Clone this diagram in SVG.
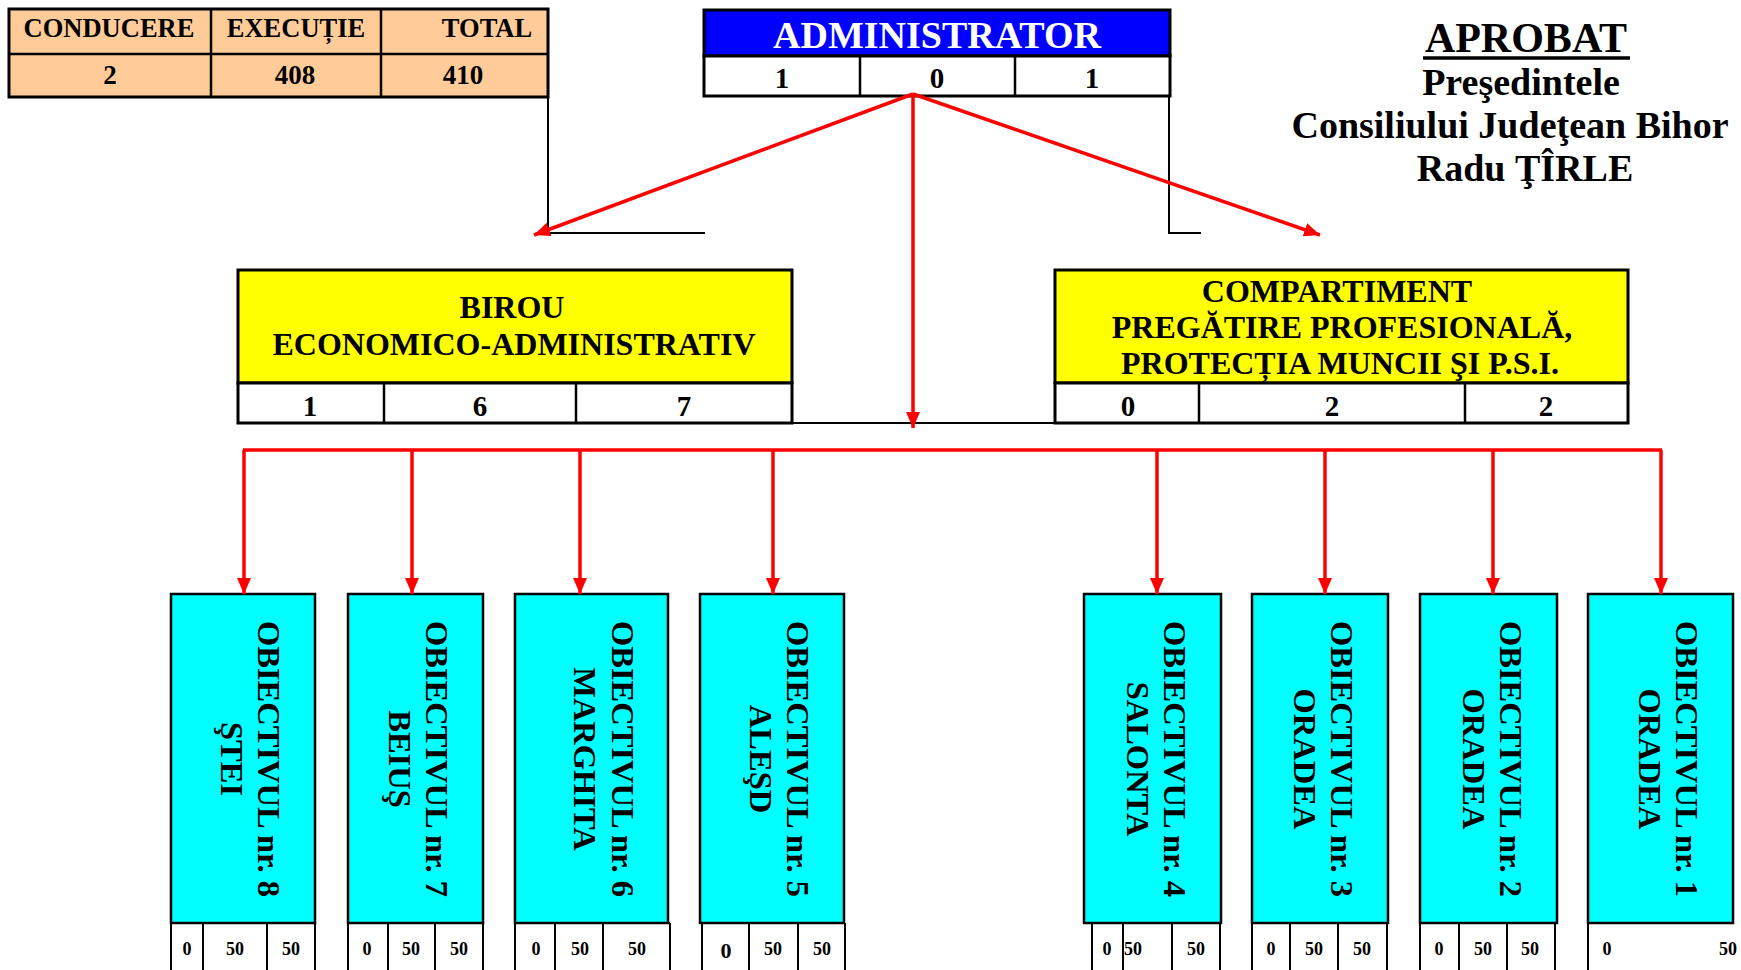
<svg xmlns="http://www.w3.org/2000/svg" width="1741" height="970" viewBox="0 0 1741 970">
<defs>
<marker id="ah" viewBox="0 0 16 14" refX="16" refY="7" markerWidth="16" markerHeight="14" orient="auto" markerUnits="userSpaceOnUse">
<path d="M0,0 L16,7 L0,14 Z" fill="#FF0000"/>
</marker>
<style>
text{font-family:"Liberation Serif","Times New Roman",serif;font-weight:bold;fill:#000;text-anchor:middle}
.box{stroke:#000;stroke-width:3}
.cell{fill:#fff;stroke:#000;stroke-width:3}
.ln{stroke:#000;stroke-width:2.5;fill:none}
.thin{stroke:#000;stroke-width:2;fill:none}
.red{stroke:#FF0000;stroke-width:3.5;fill:none}
.cy{fill:#00FFFF;stroke:#000;stroke-width:2.5}
.v{font-size:32.5px}
.n{font-size:18px}
</style>
</defs>
<rect width="1741" height="970" fill="#fff"/>

<g id="totals">
<rect x="9" y="9" width="539" height="88" fill="#FFCC99" class="box"/>
<line x1="9" y1="54" x2="548" y2="54" class="ln"/>
<line x1="211" y1="9" x2="211" y2="97" class="ln"/>
<line x1="381" y1="9" x2="381" y2="97" class="ln"/>
<text x="109" y="37" font-size="26.5">CONDUCERE</text>
<text x="296" y="37" font-size="26.5">EXECUȚIE</text>
<text x="487" y="37" font-size="26.5">TOTAL</text>
<text x="110" y="84" font-size="27">2</text>
<text x="295" y="84" font-size="27">408</text>
<text x="463" y="84" font-size="27">410</text>
</g>

<g id="administrator">
<rect x="704" y="10" width="466" height="46" fill="#0000FF" class="box"/>
<rect x="704" y="56" width="466" height="40" class="cell"/>
<line x1="860" y1="56" x2="860" y2="96" class="ln"/>
<line x1="1015" y1="56" x2="1015" y2="96" class="ln"/>
<text x="937" y="48" font-size="38" style="fill:#fff">ADMINISTRATOR</text>
<text x="782" y="88" font-size="29">1</text>
<text x="937" y="88" font-size="29">0</text>
<text x="1092" y="88" font-size="29">1</text>
</g>

<g id="aprobat">
<text x="1526" y="52" font-size="42">APROBAT</text>
<line x1="1423" y1="58" x2="1630" y2="58" stroke="#000" stroke-width="3.5"/>
<text x="1521" y="95" font-size="38">Preşedintele</text>
<text x="1510" y="138" font-size="38">Consiliului Judeţean Bihor</text>
<text x="1525" y="181" font-size="38">Radu ŢÎRLE</text>
</g>

<g id="birou">
<rect x="238" y="270" width="554" height="113" fill="#FFFF00" class="box"/>
<rect x="238" y="383" width="554" height="40" class="cell"/>
<line x1="384" y1="383" x2="384" y2="423" class="ln"/>
<line x1="576" y1="383" x2="576" y2="423" class="ln"/>
<text x="512" y="318" font-size="32">BIROU</text>
<text x="514" y="355" font-size="32">ECONOMICO-ADMINISTRATIV</text>
<text x="310" y="416" font-size="29">1</text>
<text x="480" y="416" font-size="29">6</text>
<text x="684" y="416" font-size="29">7</text>
</g>

<g id="compartiment">
<rect x="1055" y="270" width="573" height="113" fill="#FFFF00" class="box"/>
<rect x="1055" y="383" width="573" height="40" class="cell"/>
<line x1="1199" y1="383" x2="1199" y2="423" class="ln"/>
<line x1="1465" y1="383" x2="1465" y2="423" class="ln"/>
<text x="1337" y="302" font-size="32">COMPARTIMENT</text>
<text x="1342" y="338" font-size="32">PREGĂTIRE PROFESIONALĂ,</text>
<text x="1340" y="374" font-size="32">PROTECȚIA MUNCII ŞI P.S.I.</text>
<text x="1128" y="416" font-size="29">0</text>
<text x="1332" y="416" font-size="29">2</text>
<text x="1546" y="416" font-size="29">2</text>
</g>

<g id="ob8">
<rect x="171" y="594" width="144" height="329" class="cy"/>
<path d="M171,923 V970 M203,923 V970 M267,923 V970 M315,923 V970" class="thin"/>
<text transform="translate(315,759) rotate(90)" class="v"><tspan x="0" y="57">OBIECTIVUL nr. 8</tspan><tspan x="0" y="94">ŞTEI</tspan></text>
<text x="187" y="955" class="n">0</text><text x="235" y="955" class="n">50</text><text x="291" y="955" class="n">50</text>
</g>
<g id="ob7">
<rect x="348" y="594" width="135" height="329" class="cy"/>
<path d="M348,923 V970 M388,923 V970 M435,923 V970 M483,923 V970" class="thin"/>
<text transform="translate(483,759) rotate(90)" class="v"><tspan x="0" y="57">OBIECTIVUL nr. 7</tspan><tspan x="0" y="94">BEIUŞ</tspan></text>
<text x="367" y="955" class="n">0</text><text x="411" y="955" class="n">50</text><text x="459" y="955" class="n">50</text>
</g>
<g id="ob6">
<rect x="515" y="594" width="153" height="329" class="cy"/>
<path d="M515,923 H670 M515,923 V970 M555,923 V970 M603,923 V970 M670,923 V970" class="thin"/>
<text transform="translate(668,759) rotate(90)" class="v"><tspan x="0" y="56">OBIECTIVUL nr. 6</tspan><tspan x="0" y="94">MARGHITA</tspan></text>
<text x="536" y="955" class="n">0</text><text x="580" y="955" class="n">50</text><text x="637" y="955" class="n">50</text>
</g>
<g id="ob5">
<rect x="700" y="594" width="144" height="329" class="cy"/>
<path d="M700,923 H845 M702,923 V970 M749,923 V970 M798,923 V970 M845,923 V970" class="thin"/>
<text transform="translate(844,759) rotate(90)" class="v"><tspan x="0" y="57">OBIECTIVUL nr. 5</tspan><tspan x="0" y="94">ALEŞD</tspan></text>
<text x="726" y="958" font-size="22">0</text><text x="773" y="955" class="n">50</text><text x="822" y="955" class="n">50</text>
</g>
<g id="ob4">
<rect x="1084" y="594" width="137" height="329" class="cy"/>
<path d="M1092,923 V970 M1123,923 V970 M1172,923 V970 M1220,923 V970" class="thin"/>
<text transform="translate(1221,759) rotate(90)" class="v"><tspan x="0" y="57">OBIECTIVUL nr. 4</tspan><tspan x="0" y="94">SALONTA</tspan></text>
<text x="1107" y="955" class="n">0</text><text x="1133" y="955" class="n">50</text><text x="1196" y="955" class="n">50</text>
</g>
<g id="ob3">
<rect x="1252" y="594" width="136" height="329" class="cy"/>
<path d="M1252,923 V970 M1290,923 V970 M1338,923 V970 M1387,923 V970" class="thin"/>
<text transform="translate(1388,759) rotate(90)" class="v"><tspan x="0" y="57">OBIECTIVUL nr. 3</tspan><tspan x="0" y="94">ORADEA</tspan></text>
<text x="1271" y="955" class="n">0</text><text x="1314" y="955" class="n">50</text><text x="1362" y="955" class="n">50</text>
</g>
<g id="ob2">
<rect x="1420" y="594" width="137" height="329" class="cy"/>
<path d="M1420,923 V970 M1459,923 V970 M1507,923 V970 M1555,923 V970" class="thin"/>
<text transform="translate(1557,759) rotate(90)" class="v"><tspan x="0" y="57">OBIECTIVUL nr. 2</tspan><tspan x="0" y="94">ORADEA</tspan></text>
<text x="1439" y="955" class="n">0</text><text x="1483" y="955" class="n">50</text><text x="1530" y="955" class="n">50</text>
</g>
<g id="ob1">
<rect x="1588" y="594" width="145" height="329" class="cy"/>
<path d="M1588,923 V970" class="thin"/>
<text transform="translate(1733,759) rotate(90)" class="v"><tspan x="0" y="57">OBIECTIVUL nr. 1</tspan><tspan x="0" y="94">ORADEA</tspan></text>
<text x="1607" y="955" class="n">0</text><text x="1728" y="955" class="n">50</text>
</g>

<g id="connectors">
<path d="M548,97 V233 H705" class="thin"/>
<path d="M1169,96 V233 H1201" class="thin"/>
<line x1="792" y1="423" x2="1055" y2="423" class="thin"/>
<line x1="913" y1="94" x2="534" y2="235" class="red" marker-end="url(#ah)"/>
<line x1="913" y1="94" x2="1320" y2="235" class="red" marker-end="url(#ah)"/>
<line x1="913" y1="94" x2="913" y2="428" class="red" stroke-width="3" marker-end="url(#ah)"/>
<line x1="243" y1="450" x2="1662" y2="450" class="red"/>
<line x1="244" y1="450" x2="244" y2="594" class="red" marker-end="url(#ah)"/>
<line x1="412" y1="450" x2="412" y2="594" class="red" marker-end="url(#ah)"/>
<line x1="580" y1="450" x2="580" y2="594" class="red" marker-end="url(#ah)"/>
<line x1="773" y1="450" x2="773" y2="594" class="red" marker-end="url(#ah)"/>
<line x1="1157" y1="450" x2="1157" y2="594" class="red" marker-end="url(#ah)"/>
<line x1="1325" y1="450" x2="1325" y2="594" class="red" marker-end="url(#ah)"/>
<line x1="1493" y1="450" x2="1493" y2="594" class="red" marker-end="url(#ah)"/>
<line x1="1661" y1="450" x2="1661" y2="594" class="red" marker-end="url(#ah)"/>
</g>
</svg>
